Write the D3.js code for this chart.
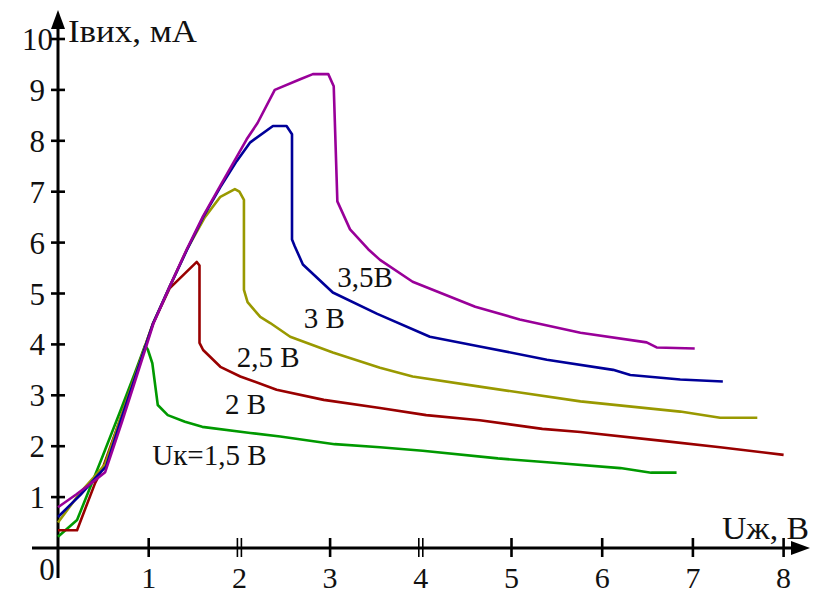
<!DOCTYPE html>
<meta charset="utf-8">
<script src="https://cdn.jsdelivr.net/npm/d3@7"></script>
<style>
  body { margin: 0; background: #fff; }
  text { font-family: "Liberation Serif", "DejaVu Serif", serif; fill: #111; }
</style>
<div id="chart"></div>
<script>

// curves: [U, I]
var curve15 = [[0,0.22],[0.21,0.55],[0.33,1.08],[0.48,1.75],[0.7,2.75],[0.85,3.45],[0.96,3.98],[0.99,3.9],[1.04,3.63],[1.1,2.81],[1.21,2.61],[1.4,2.48],[1.59,2.38],[2.12,2.26],[2.45,2.19],[3.05,2.04],[3.55,1.98],[4.02,1.91],[4.85,1.76],[5.5,1.67],[6.2,1.57],[6.54,1.48],[6.82,1.48]];
var curve20 = [[0,0.35],[0.21,0.35],[0.41,1.28],[0.5,1.6],[0.7,2.6],[0.85,3.38],[0.98,4.07],[1.05,4.42],[1.23,5.1],[1.53,5.62],[1.56,5.55],[1.56,4.03],[1.6,3.89],[1.79,3.56],[2.01,3.37],[2.41,3.11],[2.93,2.91],[3.55,2.75],[4.06,2.61],[4.65,2.51],[5.34,2.34],[5.76,2.28],[6.69,2.1],[7.3,1.98],[8.0,1.83]];
var curve25 = [[0,0.5],[0.25,1.1],[0.45,1.5],[0.52,1.65],[0.7,2.6],[0.85,3.38],[0.98,4.07],[1.05,4.42],[1.23,5.13],[1.42,5.86],[1.62,6.5],[1.79,6.9],[1.95,7.05],[2.0,7.0],[2.05,6.84],[2.05,5.07],[2.09,4.83],[2.23,4.54],[2.34,4.42],[2.56,4.15],[3.03,3.84],[3.55,3.54],[3.91,3.37],[4.65,3.17],[5.76,2.88],[6.86,2.68],[7.3,2.56],[7.71,2.56]];
var curve30 = [[0,0.61],[0.25,1.05],[0.45,1.45],[0.53,1.6],[0.7,2.55],[0.85,3.35],[0.98,4.05],[1.05,4.42],[1.23,5.13],[1.42,5.85],[1.6,6.5],[1.79,7.09],[1.97,7.6],[2.12,7.97],[2.37,8.29],[2.52,8.29],[2.58,8.13],[2.58,6.06],[2.61,5.93],[2.7,5.57],[3.03,5.02],[3.52,4.6],[4.1,4.15],[4.65,3.96],[5.39,3.7],[6.12,3.5],[6.31,3.4],[6.86,3.31],[7.33,3.27]];
var curve35 = [[0,0.8],[0.2,1.05],[0.35,1.25],[0.52,1.49],[0.7,2.45],[0.85,3.28],[0.98,4.0],[1.05,4.4],[1.23,5.13],[1.42,5.87],[1.6,6.52],[1.79,7.12],[2.08,8.03],[2.2,8.35],[2.39,9.0],[2.67,9.21],[2.81,9.31],[2.98,9.31],[3.04,9.07],[3.08,6.81],[3.22,6.26],[3.42,5.87],[3.55,5.66],[3.91,5.23],[4.6,4.74],[5.09,4.49],[5.76,4.23],[6.49,4.04],[6.6,3.94],[7.02,3.92]];

var curves = [curve15, curve20, curve25, curve30, curve35];
var colors = ["#009900", "#990000", "#999900", "#000099", "#990099"];

var curveLabels = ["Uк=1,5 В", "2 В", "2,5 В", "3 В", "3,5В"];
var labelPos = [[1.04,1.63],[1.84,2.63],[1.97,3.56],[2.71,4.33],[3.08,5.12]];

var xTicks = [1,2,3,4,5,6,7,8];
var yTicks = [1,2,3,4,5,6,7,8,9,10];
var doubleTicks = [2,4];

var width = 814, height = 589;

var svg = d3.select("#chart")
  .append("svg")
    .attr("width", width)
    .attr("height", height);

var x = d3.scaleLinear().domain([0, 8]).range([58, 783.6]);
var y = d3.scaleLinear().domain([0, 10]).range([548, 39]);

// axes lines
svg.append("line")
  .attr("x1", 32).attr("x2", 795)
  .attr("y1", y(0)).attr("y2", y(0))
  .style("stroke", "#000").style("stroke-width", 3);
svg.append("line")
  .attr("x1", x(0)).attr("x2", x(0))
  .attr("y1", 26).attr("y2", 578)
  .style("stroke", "#000").style("stroke-width", 3);

// arrow heads
svg.append("path")
  .attr("d", "M" + x(0) + ",10 L" + (x(0) - 7) + ",29 L" + (x(0) + 7) + ",29 Z")
  .style("fill", "#000");
svg.append("path")
  .attr("d", "M810," + y(0) + " L791," + (y(0) - 7) + " L791," + (y(0) + 7) + " Z")
  .style("fill", "#000");

// x ticks
xTicks.forEach(function(t) {
  var offs = doubleTicks.indexOf(t) >= 0 ? [-2, 2] : [0];
  offs.forEach(function(o) {
    svg.append("line")
      .attr("x1", x(t) + o).attr("x2", x(t) + o)
      .attr("y1", y(0) - 10).attr("y2", y(0) + 9)
      .style("stroke", "#000").style("stroke-width", offs.length > 1 ? 1.6 : 2.6);
  });
});

// y ticks
svg.selectAll(".ytick")
  .data(yTicks)
  .enter()
  .append("line")
    .attr("x1", x(0) - 7).attr("x2", x(0) + 7)
    .attr("y1", function(d) { return y(d); })
    .attr("y2", function(d) { return y(d); })
    .style("stroke", "#000").style("stroke-width", 2.6);

// tick labels
svg.selectAll(".xlab")
  .data(xTicks)
  .enter()
  .append("text")
    .attr("x", function(d) { return x(d); })
    .attr("y", 588)
    .attr("text-anchor", "middle")
    .style("font-size", "30px")
    .text(function(d) { return d; });

svg.selectAll(".ylab")
  .data(yTicks)
  .enter()
  .append("text")
    .attr("x", function(d) { return d == 10 ? 53 : 45; })
    .attr("y", function(d) { return y(d) + 11; })
    .attr("text-anchor", "end")
    .style("font-size", "31px")
    .text(function(d) { return d; });

svg.append("text")
  .attr("x", 47).attr("y", 580)
  .attr("text-anchor", "middle")
  .style("font-size", "31px")
  .text("0");

// axis titles
svg.append("text")
  .attr("x", 68).attr("y", 42)
  .style("font-size", "31px")
  .attr("textLength", 129)
  .attr("lengthAdjust", "spacingAndGlyphs")
  .text("Iвих, мА");
svg.append("text")
  .attr("x", 722).attr("y", 539)
  .style("font-size", "31px")
  .attr("textLength", 87)
  .attr("lengthAdjust", "spacingAndGlyphs")
  .text("Uж, В");

// curves
var line = d3.line()
  .x(function(d) { return x(d[0]); })
  .y(function(d) { return y(d[1]); });

svg.selectAll(".curve")
  .data(curves)
  .enter()
  .append("path")
    .attr("d", line)
    .style("fill", "none")
    .style("stroke", function(d, i) { return colors[i]; })
    .style("stroke-width", 2.6)
    .style("stroke-linejoin", "round");

// curve labels
svg.selectAll(".clab")
  .data(curveLabels)
  .enter()
  .append("text")
    .attr("x", function(d, i) { return x(labelPos[i][0]); })
    .attr("y", function(d, i) { return y(labelPos[i][1]); })
    .style("font-size", "29px")
    .text(function(d) { return d; });

</script>
